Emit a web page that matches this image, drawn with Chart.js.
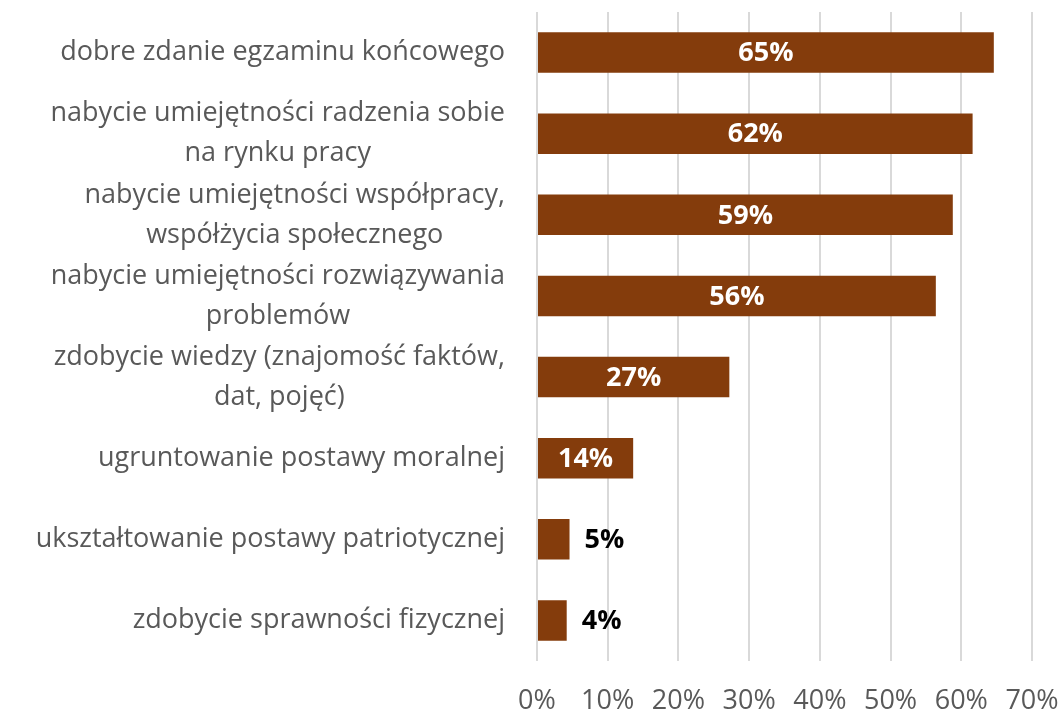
<!DOCTYPE html>
<html>
<head>
<meta charset="utf-8">
<title>Wykres</title>
<script src="https://cdn.jsdelivr.net/npm/chart.js@4/dist/chart.umd.min.js"></script>
<style>
    html, body { margin: 0; padding: 0; background: #fff; }
</style>
</head>
<body>
<canvas id="myChart" width="1061" height="714"></canvas>
<script>
// Dane wykresu
const categories = [
    "dobre zdanie egzaminu końcowego",
    ["nabycie umiejętności radzenia sobie", "na rynku pracy"],
    ["nabycie umiejętności współpracy,", "współżycia społecznego"],
    ["nabycie umiejętności rozwiązywania", "problemów"],
    ["zdobycie wiedzy (znajomość faktów,", "dat, pojęć)"],
    "ugruntowanie postawy moralnej",
    "ukształtowanie postawy patriotycznej",
    "zdobycie sprawności fizycznej"
];
const values = [64.6, 61.6, 58.8, 56.4, 27.2, 13.6, 4.6, 4.2];
const xTicks = [0, 10, 20, 30, 40, 50, 60, 70];

const barColor = "#843C0C";
const labelFont = '27px "Open Sans"';

// Etykiety osi kategorii - wyśrodkowane linie, cały blok wyrównany do prawej
const categoryLabels = {
    id: 'categoryLabels',
    afterDraw(chart) {
        const ctx = chart.ctx;
        const yScale = chart.scales.y;
        const right = chart.chartArea.left - 32;
        ctx.save();
        ctx.font = labelFont;
        ctx.fillStyle = "#595959";
        ctx.textAlign = "center";
        ctx.textBaseline = "middle";
        categories.forEach((lab, i) => {
            const lines = Array.isArray(lab) ? lab : [lab];
            const w = Math.max(...lines.map(l => ctx.measureText(l).width));
            const cy = yScale.getPixelForTick(i);
            lines.forEach((l, j) => {
                ctx.fillText(l, right - w / 2, cy + (j - (lines.length - 1) / 2) * 40);
            });
        });
        ctx.restore();
    }
};

// Etykiety danych na słupkach
const valueLabels = {
    id: 'valueLabels',
    afterDatasetsDraw(chart) {
        const ctx = chart.ctx;
        const meta = chart.getDatasetMeta(0);
        ctx.save();
        ctx.font = 'bold 27px "Open Sans"';
        ctx.textBaseline = "middle";
        meta.data.forEach((bar, i) => {
            const txt = Math.round(values[i]) + "%";
            if (values[i] >= 10) {
                ctx.fillStyle = "#ffffff";
                ctx.textAlign = "center";
                ctx.fillText(txt, (bar.x + bar.base) / 2, bar.y + 1);
            } else {
                ctx.fillStyle = "#000000";
                ctx.textAlign = "left";
                ctx.fillText(txt, bar.x + 15, bar.y + 1);
            }
        });
        ctx.restore();
    }
};

const ctx = document.getElementById("myChart").getContext("2d");
new Chart(ctx, {
    type: "bar",
    data: {
        labels: categories,
        datasets: [{
            data: values,
            backgroundColor: barColor,
            borderWidth: 0,
            barPercentage: 0.5,
            categoryPercentage: 1.0
        }]
    },
    options: {
        indexAxis: "y",
        responsive: false,
        animation: false,
        layout: { padding: { top: 12, right: 0, bottom: 0, left: 0 } },
        plugins: {
            legend: { display: false },
            tooltip: { enabled: false }
        },
        scales: {
            x: {
                min: xTicks[0],
                max: xTicks[xTicks.length - 1],
                afterBuildTicks: s => { s.ticks = xTicks.map(v => ({ value: v })); },
                afterFit: s => { s.paddingRight = 29; s.height = 53; },
                grid: { color: "#d9d9d9", lineWidth: 2, drawTicks: false },
                border: { display: false },
                ticks: {
                    padding: 24,
                    color: "#595959",
                    font: { family: "Open Sans", size: 27 },
                    callback: v => v + "%"
                }
            },
            y: {
                afterFit: s => { s.width = 537; },
                grid: { display: false },
                border: { display: false },
                ticks: { display: false }
            }
        }
    },
    plugins: [categoryLabels, valueLabels]
});
</script>
</body>
</html>
